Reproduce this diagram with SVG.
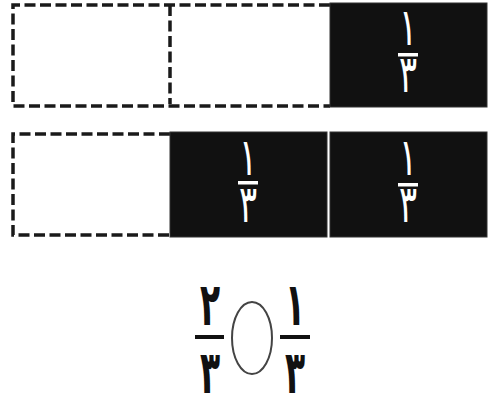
<svg xmlns="http://www.w3.org/2000/svg" width="498" height="398" viewBox="0 0 498 398">
<style>
.dash{fill:none;stroke:#1a1a1a;stroke-width:3.5;stroke-dasharray:11 4.5}
.box{fill:#111;stroke:#333;stroke-width:1}
.wd{fill:#fff;font-family:"DejaVu Sans",sans-serif;font-size:52px;text-anchor:middle}
.bd{fill:#111;font-family:"DejaVu Sans",sans-serif;font-size:60px;font-weight:bold;text-anchor:middle}
</style>
<g id="row1">
<path class="dash" d="M330 5 H13 V106 H330"/>
<line class="dash" x1="170" y1="5" x2="170" y2="104"/>
<g id="r1b3"><rect class="box" x="330" y="3" width="157" height="104"/>
<text class="wd" transform="translate(408,45) scale(0.65,1)">١</text><rect x="398" y="53" width="20" height="3.5" fill="#fff"/><text class="wd" transform="translate(408,92) scale(0.65,1)">٣</text></g>
</g>
<g id="row2">
<path class="dash" d="M170 134 H13 V235 H170"/>
<g id="r2b2"><rect class="box" x="170" y="132" width="157" height="105"/>
<text class="wd" transform="translate(248,175) scale(0.65,1)">١</text><rect x="238" y="181" width="20" height="3.5" fill="#fff"/><text class="wd" transform="translate(248,222) scale(0.65,1)">٣</text></g>
<g id="r2b3"><rect class="box" x="330" y="132" width="157" height="105"/>
<text class="wd" transform="translate(408,175) scale(0.65,1)">١</text><rect x="398" y="183" width="20" height="3.5" fill="#fff"/><text class="wd" transform="translate(408,222) scale(0.65,1)">٣</text></g>
</g>
<g id="compare">
<text class="bd" transform="translate(210,325) scale(0.55,1)">٢</text><rect x="195" y="335" width="29" height="4" fill="#111"/><text class="bd" transform="translate(210,393) scale(0.55,1)">٣</text>
<ellipse cx="252" cy="338" rx="20" ry="36" fill="none" stroke="#444" stroke-width="2"/>
<text class="bd" transform="translate(295,325) scale(0.55,1)">١</text><rect x="280" y="335" width="30" height="4" fill="#111"/><text class="bd" transform="translate(295,393) scale(0.55,1)">٣</text>
</g>
</svg>
